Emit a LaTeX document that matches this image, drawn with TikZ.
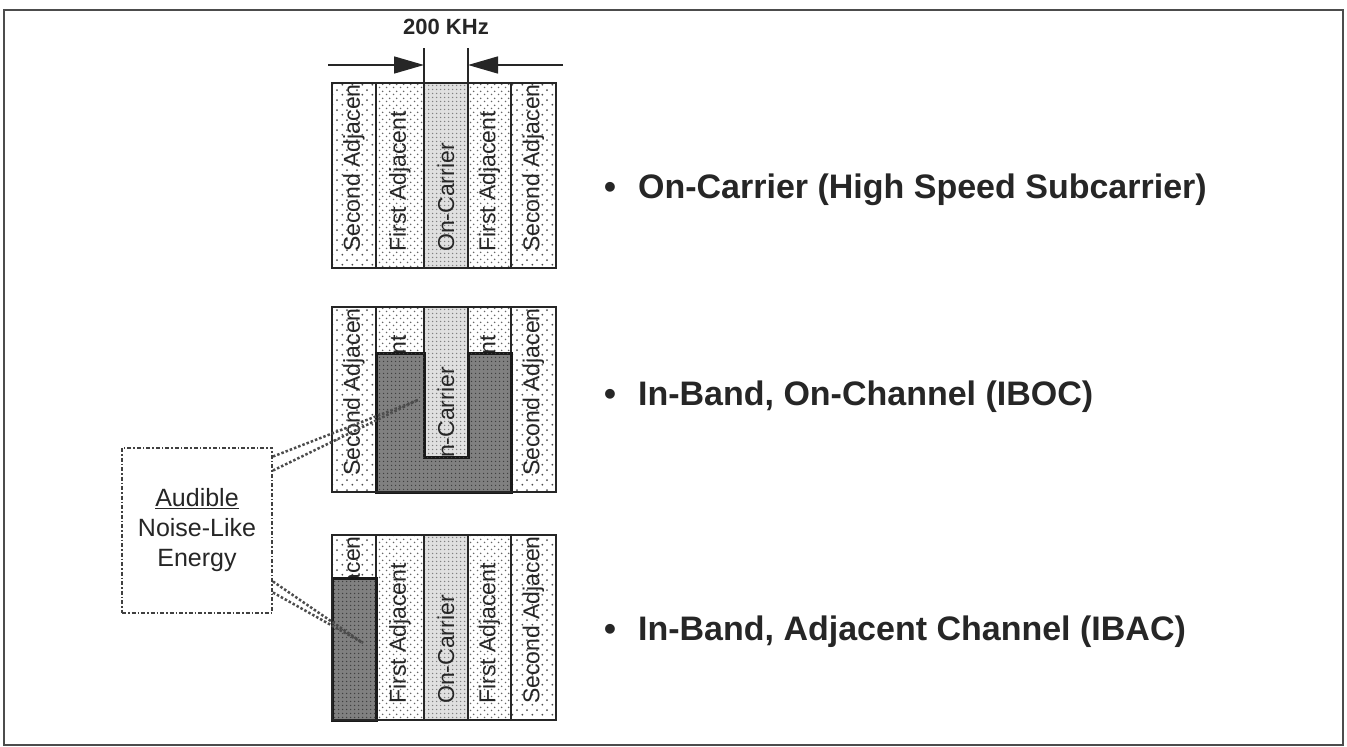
\documentclass[tikz,border=0pt]{standalone}
\usepackage{fontspec}
\setmainfont{Liberation Sans}
\usetikzlibrary{arrows.meta,patterns.meta,calc}

\tikzdeclarepattern{name=sparsedots, type=uncolored,
  bounding box={(0pt,0pt) and (10pt,10pt)}, tile size={(10pt,10pt)},
  code={\fill (2.5pt,2.5pt) circle (1.1pt); \fill (7.5pt,7.5pt) circle (1.1pt);}}
\tikzdeclarepattern{name=smalldots, type=uncolored,
  bounding box={(0pt,0pt) and (7pt,7pt)}, tile size={(7pt,7pt)},
  code={\fill (1.75pt,1.75pt) circle (0.95pt); \fill (5.25pt,5.25pt) circle (0.95pt);}}
\tikzdeclarepattern{name=densedots, type=uncolored,
  bounding box={(0pt,0pt) and (3.5pt,3.5pt)}, tile size={(3.5pt,3.5pt)},
  code={\fill (1.75pt,1.75pt) circle (0.85pt);}}

\tikzset{
  second/.style={fill=white, postaction={pattern=sparsedots, pattern color=black!70}},
  first/.style={fill=white, postaction={pattern=smalldots, pattern color=black!60}},
  carrier/.style={fill=black!12, postaction={pattern=densedots, pattern color=black!50}},
  noise/.style={fill=black!50, postaction={pattern=densedots, pattern color=black!75}, draw=black!90, line width=3pt},
  divider/.style={draw=black!85, line width=2pt},
  bandframe/.style={draw=black!85, line width=2pt},
  bandlabel/.style={rotate=90, anchor=west, inner sep=0pt, text=black!85, font=\fontsize{23}{23}\selectfont},
  item/.style={anchor=base west, inner sep=0pt, text=black!85, font=\bfseries\fontsize{34}{40}\selectfont},
  dimarrow/.style={draw=black!85, line width=1.5pt, -{Triangle[length=30pt, width=17pt]}},
  leader/.style={draw=black!70, line width=2.5pt, dash pattern=on 2.5pt off 2pt},
  calloutbox/.style={draw=black!75, line width=2pt, dash pattern=on 4pt off 2pt on 1.5pt off 2pt,
    minimum width=150pt, minimum height=165pt, align=center, text=black!85,
    font=\fontsize{25}{30}\selectfont}
}

\begin{document}
\begin{tikzpicture}[x=1pt, y=-1pt]
\useasboundingbox (0,0) rectangle (1347,747);

\draw[black!70, line width=2pt] (4,10) rectangle (1343,745);

\foreach \top in {83,307,535}{
  \begin{scope}[shift={(332,\top)}]
    \clip (0,0) rectangle (224,185);
    \fill[second] (0,0) rectangle (44,185);
    \fill[first] (44,0) rectangle (92,185);
    \fill[carrier] (92,0) rectangle (136,185);
    \fill[first] (136,0) rectangle (179,185);
    \fill[second] (179,0) rectangle (224,185);
    \draw[divider] (44,0) -- (44,185) (92,0) -- (92,185) (136,0) -- (136,185) (179,0) -- (179,185);
    \node[bandlabel] (sal-\top) at (22,169) {Second Adjacent};
    \node[bandlabel] (fal-\top) at (68,169) {First Adjacent};
    \node[bandlabel] (oc-\top) at (114,169) {On-Carrier};
    \node[bandlabel] (far-\top) at (157.5,169) {First Adjacent};
    \node[bandlabel] (sar-\top) at (201.5,169) {Second Adjacent};
  \end{scope}
}

\draw[noise] (376,492) -- (376,353) -- (424,353) -- (424,457) -- (468,457) -- (468,353) -- (511,353) -- (511,492) -- cycle;
\draw[noise] (332,578) rectangle (376,720);

\foreach \top in {83,307,535}
  \draw[bandframe] (332,\top) rectangle (556,\top+185);

\coordinate (gapleft) at (424,83);
\coordinate (gapright) at (468,83);
\coordinate (dimleft) at (328,65);
\coordinate (dimright) at (563,65);
\draw[divider] (gapleft) -- ++(0,-35);
\draw[divider] (gapright) -- ++(0,-35);
\draw[dimarrow] (dimleft) -- (gapleft |- dimleft);
\draw[dimarrow] (dimright) -- (gapright |- dimright);
\node[font=\bfseries\fontsize{22}{22}\selectfont, text=black!85] (bandwidth) at (446,27) {200 KHz};

\node[item] (oncarrier) at (604,198) {\textbullet\hspace{22pt}On-Carrier (High Speed Subcarrier)};
\node[item] (iboc) at (604,405) {\textbullet\hspace{22pt}In-Band, On-Channel (IBOC)};
\node[item] (ibac) at (604,640) {\textbullet\hspace{22pt}In-Band, Adjacent Channel (IBAC)};

\node[calloutbox] (callout) at (197,530) {\underline{Audible}\\Noise-Like\\Energy};

\coordinate (ibocnoise) at (418,400);
\coordinate (ibacnoise) at (363,643);
\draw[leader] ($(callout.north east)+(0,10)$) -- (ibocnoise);
\draw[leader] ($(callout.north east)+(0,24)$) -- (ibocnoise);
\draw[leader] ($(callout.north east)+(0,135)$) -- (ibacnoise);
\draw[leader] ($(callout.north east)+(0,146)$) -- (ibacnoise);

\end{tikzpicture}
\end{document}
